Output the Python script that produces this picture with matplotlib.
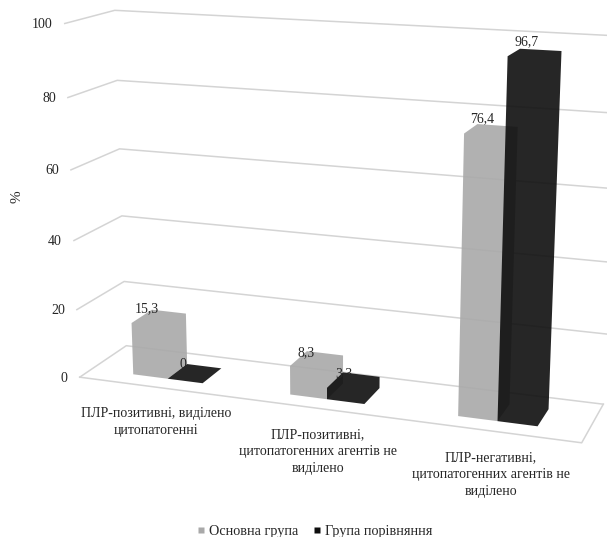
import matplotlib.pyplot as plt
import numpy as np
from matplotlib.lines import Line2D
from matplotlib.patches import Polygon

categories = [
    "ПЛР-позитивні, виділено\nцитопатогенні",
    "ПЛР-позитивні,\nцитопатогенних агентів не\nвиділено",
    "ПЛР-негативні,\nцитопатогенних агентів не\nвиділено",
]
series_names = ["Основна група", "Група порівняння"]
main_group = [15.3, 8.3, 76.4]
comparison_group = [0, 3.3, 96.7]
y_ticks = [0, 20, 40, 60, 80, 100]

GRAY = "#a9a9a9"
DARK = "#0e0e0e"
GRID = "#d4d4d4"
TEXT = "#262626"
FONT = "Liberation Serif"

# category axis fraction, depth fraction, value -> pixel position in the figure
ANCHORS = [
    (0, 0, 0, 80, 377),
    (1, 0, 0, 582, 443),
    (0, 1, 0, 127, 346),
    (1, 1, 0, 603, 404),
    (0, 0, 100, 65, 24),
    (0, 1, 100, 115, 10),
    (1, 1, 100, 620, 36),
    (0, 0, 60, 70, 170),
    (0, 1, 60, 120, 148.5),
    (0, 0, 20, 77, 309),
    (0, 1, 20, 123, 282),
]


def fit_camera(anchors):
    rows = []
    for x, d, v, px, py in anchors:
        p = [x, d, v / 100, 1]
        rows.append(p + [0, 0, 0, 0] + [-px * c for c in p])
        rows.append([0, 0, 0, 0] + p + [-py * c for c in p])
    _, _, vt = np.linalg.svd(np.array(rows, dtype=float))
    return vt[-1].reshape(3, 4)


CAMERA = fit_camera(ANCHORS)


def project(x, d, v):
    u = CAMERA @ np.array([x, d, v / 100, 1])
    return u[0] / u[2], u[1] / u[2]


def hull(points):
    pts = sorted(set(points))

    def half(seq):
        out = []
        for p in seq:
            while len(out) > 1:
                a, b = out[-2], out[-1]
                if (b[0] - a[0]) * (p[1] - a[1]) - (b[1] - a[1]) * (p[0] - a[0]) > 0:
                    break
                out.pop()
            out.append(p)
        return out[:-1]

    return half(pts) + half(pts[::-1])


def draw_bar(ax, x0, x1, d0, d1, value, color, zorder):
    corners = [
        project(x, d, v)
        for x in (x0, x1)
        for d in (d0, d1)
        for v in (0, value)
    ]
    ax.add_patch(
        Polygon(hull(corners), closed=True, fc=color, ec="none", alpha=0.9, zorder=zorder)
    )


def main():
    fig = plt.figure(figsize=(6.07, 5.37), dpi=100)
    ax = fig.add_axes([0, 0, 1, 1])
    ax.set_xlim(0, 607)
    ax.set_ylim(537, 0)
    ax.axis("off")

    # walls and floor
    for tick in y_ticks:
        xs, ys = zip(project(0, 0, tick), project(0, 1, tick), project(1, 1, tick))
        ax.plot(xs, ys, color=GRID, lw=1.1, zorder=1)
        px, py = project(0, 0, tick)
        ax.text(
            px - 12, py + 1, str(tick), ha="right", va="center",
            family=FONT, fontsize=10, color=TEXT,
        )
    floor = [project(0, 0, 0), project(1, 0, 0), project(1, 1, 0)]
    xs, ys = zip(*floor)
    ax.plot(xs, ys, color=GRID, lw=1.1, zorder=1)

    ax.text(
        17, 197, "%", rotation=90, ha="center", va="center",
        family=FONT, fontsize=11, color=TEXT,
    )

    band = 1 / len(categories)
    bar_width = 0.075
    depth = (0.25, 0.7)
    for i, label in enumerate(categories):
        centre = (i + 0.5) * band
        left = centre - bar_width
        draw_bar(ax, left, centre, *depth, main_group[i], GRAY, 3)
        draw_bar(ax, centre, centre + bar_width, *depth, comparison_group[i], DARK, 4)

        for x, value in (
            (left + bar_width / 2, main_group[i]),
            (centre + bar_width / 2, comparison_group[i]),
        ):
            px, py = project(x, depth[0], value)
            ax.text(
                px - 2, py - 16, f"{value:g}".replace(".", ","), ha="center",
                va="center", family=FONT, fontsize=10, color=TEXT, zorder=6,
            )

        px, py = project(centre, 0, 0)
        ax.text(
            px, py + 20, label, ha="center", va="top", multialignment="center",
            family=FONT, fontsize=10, color=TEXT, linespacing=1.4,
        )

    handles = [
        Line2D([], [], ls="none", marker="s", ms=5, mfc=c, mec="none")
        for c in (GRAY, DARK)
    ]
    ax.legend(
        handles, series_names, loc="center", bbox_to_anchor=(313 / 607, 1 - 531 / 537),
        ncol=2, frameon=False, prop={"family": FONT, "size": 10.3}, labelcolor=TEXT,
        handlelength=1, handletextpad=0.05, columnspacing=0.85, borderpad=0,
    )

    fig.savefig("out.png", dpi=100)


if __name__ == "__main__":
    main()
